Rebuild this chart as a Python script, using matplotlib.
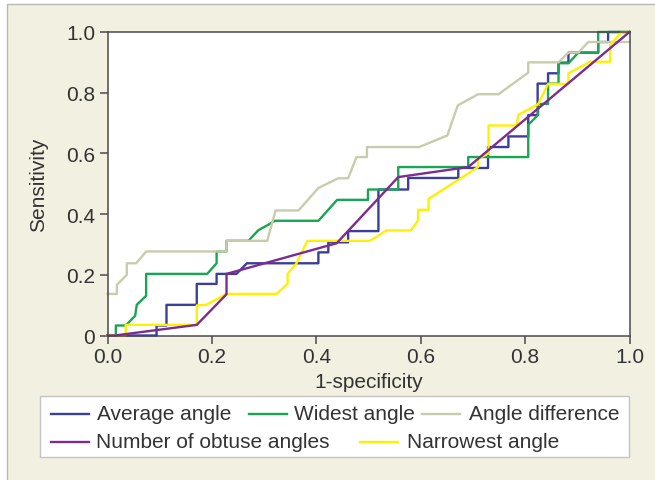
"""ROC curves for the five angle measures"""
import matplotlib
matplotlib.use("Agg")
import matplotlib.pyplot as plt
from matplotlib.lines import Line2D
from matplotlib.patches import Rectangle

plt.rcParams["font.family"] = ["Liberation Sans", "DejaVu Sans"]
plt.rcParams["font.size"] = 15

# series (1-specificity, sensitivity)
avg_x = [0, 0.094, 0.094, 0.113, 0.113, 0.171, 0.171, 0.209, 0.209, 0.247, 0.267,
         0.404, 0.404, 0.423, 0.423, 0.461, 0.461, 0.519, 0.519, 0.576, 0.576,
         0.672, 0.672, 0.729, 0.729, 0.768, 0.768, 0.806, 0.806, 0.824, 0.824,
         0.844, 0.844, 0.864, 0.864, 0.883, 0.883, 0.940, 0.940, 0.959, 0.959, 1.0]
avg_y = [0, 0, 0.033, 0.033, 0.101, 0.101, 0.170, 0.170, 0.203, 0.203, 0.238,
         0.238, 0.274, 0.274, 0.307, 0.307, 0.344, 0.344, 0.481, 0.481, 0.519,
         0.519, 0.552, 0.552, 0.621, 0.621, 0.656, 0.656, 0.726, 0.726, 0.830,
         0.830, 0.864, 0.864, 0.899, 0.899, 0.932, 0.932, 0.967, 0.967, 1.0, 1.0]

wide_x = [0, 0.016, 0.016, 0.035, 0.053, 0.056, 0.074, 0.074, 0.191, 0.209, 0.209,
          0.228, 0.228, 0.270, 0.289, 0.305, 0.321, 0.404, 0.440, 0.499, 0.499,
          0.557, 0.557, 0.691, 0.691, 0.806, 0.806, 0.825, 0.825, 0.844, 0.844,
          0.864, 0.864, 0.883, 0.902, 0.940, 0.940, 1.0]
wide_y = [0, 0, 0.033, 0.033, 0.065, 0.101, 0.131, 0.203, 0.203, 0.238, 0.277,
          0.277, 0.312, 0.312, 0.347, 0.362, 0.378, 0.378, 0.447, 0.447, 0.481,
          0.481, 0.555, 0.555, 0.588, 0.588, 0.694, 0.727, 0.763, 0.763, 0.830,
          0.830, 0.897, 0.897, 0.932, 0.932, 1.0, 1.0]

diff_x = [0, 0.018, 0.018, 0.037, 0.037, 0.055, 0.074, 0.228, 0.228, 0.306, 0.322,
          0.366, 0.404, 0.442, 0.461, 0.477, 0.497, 0.497, 0.597, 0.651, 0.671,
          0.710, 0.749, 0.806, 0.806, 0.864, 0.883, 0.902, 0.921, 1.0]
diff_y = [0.137, 0.137, 0.167, 0.200, 0.238, 0.238, 0.277, 0.277, 0.312, 0.312,
          0.412, 0.412, 0.486, 0.518, 0.518, 0.588, 0.588, 0.621, 0.621, 0.659,
          0.758, 0.795, 0.795, 0.866, 0.900, 0.900, 0.932, 0.932, 0.967, 0.967]

obtuse_x = [0, 0.014, 0.171, 0.228, 0.228, 0.439, 0.557, 0.691, 1.0]
obtuse_y = [0, 0, 0.035, 0.136, 0.203, 0.304, 0.522, 0.555, 1.0]

narrow_x = [0, 0.035, 0.035, 0.171, 0.171, 0.189, 0.228, 0.324, 0.345, 0.345,
            0.362, 0.383, 0.503, 0.534, 0.581, 0.595, 0.595, 0.615, 0.615, 0.710,
            0.710, 0.730, 0.730, 0.784, 0.787, 0.825, 0.844, 0.883, 0.883, 0.925,
            0.963, 0.963, 0.985, 1.0]
narrow_y = [0, 0, 0.035, 0.035, 0.099, 0.101, 0.137, 0.137, 0.170, 0.203, 0.238,
            0.312, 0.312, 0.346, 0.346, 0.379, 0.414, 0.414, 0.450, 0.555, 0.583,
            0.600, 0.692, 0.692, 0.727, 0.762, 0.829, 0.829, 0.864, 0.902, 0.902,
            0.958, 1.0, 1.0]

labels = ["Average angle", "Widest angle", "Angle difference",
          "Number of obtuse angles", "Narrowest angle"]
colors = ["#3b3f9c", "#19a652", "#c9ccab", "#7d2b8e", "#fff000"]
xticks = [0.0, 0.2, 0.4, 0.6, 0.8, 1.0]
xtick_labels = ["0.0", "0.2", "0.4", "0.6", "0.8", "1.0"]
ytick_labels = ["0", "0.2", "0.4", "0.6", "0.8", "1.0"]

W, H = 655, 481
fig = plt.figure(figsize=(W / 100, H / 100), dpi=100, facecolor="white")
# beige panel with a light grey border on left/top
fig.patches.append(Rectangle((6.5 / W, -0.05), 1.1, 1 - 4.5 / H + 0.05,
                             transform=fig.transFigure, facecolor="#f2f0e1",
                             edgecolor="#b9b9b9", lw=1.0, zorder=-2))

ax = fig.add_axes([107.5 / W, 1 - 336.5 / H, 522 / W, 303.5 / H])
ax.set_zorder(2)
ax.set_facecolor("white")

series = [(avg_x, avg_y), (wide_x, wide_y), (diff_x, diff_y),
          (narrow_x, narrow_y), (obtuse_x, obtuse_y)]
order = [0, 1, 2, 4, 3]
for k, ((xs, ys), i) in enumerate(zip(series, order)):
    # keep the curves under the spines, like the original
    ax.plot(xs, ys, color=colors[i], lw=1.7, clip_on=False, zorder=2 + 0.1 * k)

ax.set_xlim(0, 1)
ax.set_ylim(0, 1)
ax.set_xticks(xticks)
ax.set_xticklabels(xtick_labels)
ax.set_yticks(xticks)
ax.set_yticklabels(ytick_labels)
for s in ax.spines.values():
    s.set_color("#4a4a4a")
    s.set_linewidth(1.1)
    s.set_zorder(3)
ax.tick_params(direction="out", length=6, width=1.1, color="#4a4a4a",
               labelcolor="#333333", pad=2)
ax.tick_params(axis="y", pad=3)

ax.set_xlabel("1-specificity", color="#333333", va="center")
ax.xaxis.set_label_coords(0.5, -0.150)
ax.set_ylabel("Sensitivity", color="#333333", va="center")
ax.yaxis.set_label_coords(-0.133, 0.5)

# legend box, laid out by hand to match the two uneven rows
fig.patches.append(Rectangle((40 / W, 1 - 458 / H), 589 / W, 61 / H,
                             transform=fig.transFigure, facecolor="white",
                             edgecolor="#c4c4c4", lw=1.0, zorder=1))
leg_rows = [415, 415, 415, 443, 443]
leg_handle = [51, 249, 422, 51, 360]
leg_text = [97, 294, 469, 96, 407]
for i, lab in enumerate(labels):
    yy = 1 - leg_rows[i] / H
    fig.add_artist(Line2D([leg_handle[i] / W, (leg_handle[i] + 38) / W], [yy, yy],
                          transform=fig.transFigure, color=colors[i], lw=1.7))
    fig.text(leg_text[i] / W, yy, lab, ha="left", va="center", color="#333333")

fig.savefig("out.png", dpi=100, facecolor=fig.get_facecolor())
